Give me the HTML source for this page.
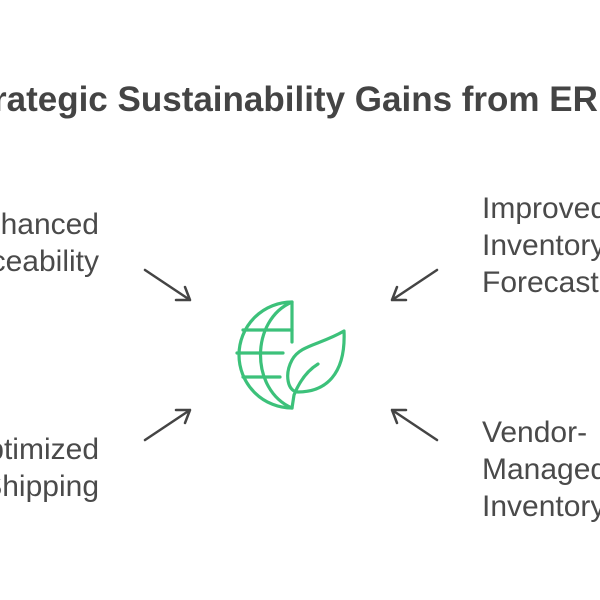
<!DOCTYPE html>
<html><head><style>
body{margin:0;width:600px;height:600px;background:#fff;overflow:hidden;position:relative;font-family:"Liberation Sans",sans-serif;color:#4a4a4a}
.t{position:absolute;white-space:nowrap}
.l{font-size:30px;line-height:37px}
</style></head><body>
<div class="t" style="left:-42px;top:80px;font-size:35px;font-weight:bold;color:#444">Strategic Sustainability Gains from ERP</div>
<div class="t l" style="right:501px;top:206px;text-align:right">Enhanced<br>Traceability</div>
<div class="t l" style="right:501px;top:431px;text-align:right">Optimized<br>Shipping</div>
<div class="t l" style="left:482px;top:190px">Improved<br>Inventory<br>Forecasting</div>
<div class="t l" style="left:482px;top:414px">Vendor-<br>Managed<br>Inventory</div>
<svg width="600" height="600" style="position:absolute;left:0;top:0" fill="none">
<g stroke="#444" stroke-width="2.5" stroke-linecap="round" stroke-linejoin="round">
<path d="M145 270L190 300M176 300H190L185 287"/>
<path d="M437 270L392 300M406 300H392L397 287"/>
<path d="M145 440L190 410M176 410H190L185 423"/>
<path d="M437 440L392 410M406 410H392L397 423"/>
</g>
<g stroke="#3cc17a" stroke-width="3.2" stroke-linecap="round" stroke-linejoin="round">
<path d="M292 342V302A53 53 0 0 0 292 408"/>
<path d="M292 302C250 320 250 390 292 408"/>
<path d="M243 330H292M237 353H283M243 377H280"/>
<path d="M344 331C320 345 300 345 292 360C284 375 288 392 298 392C325 392 346 375 344 331Z"/>
<path d="M318 364C305 372 298 385 294 395L292 408"/>
</g>
</svg>
</body></html>
